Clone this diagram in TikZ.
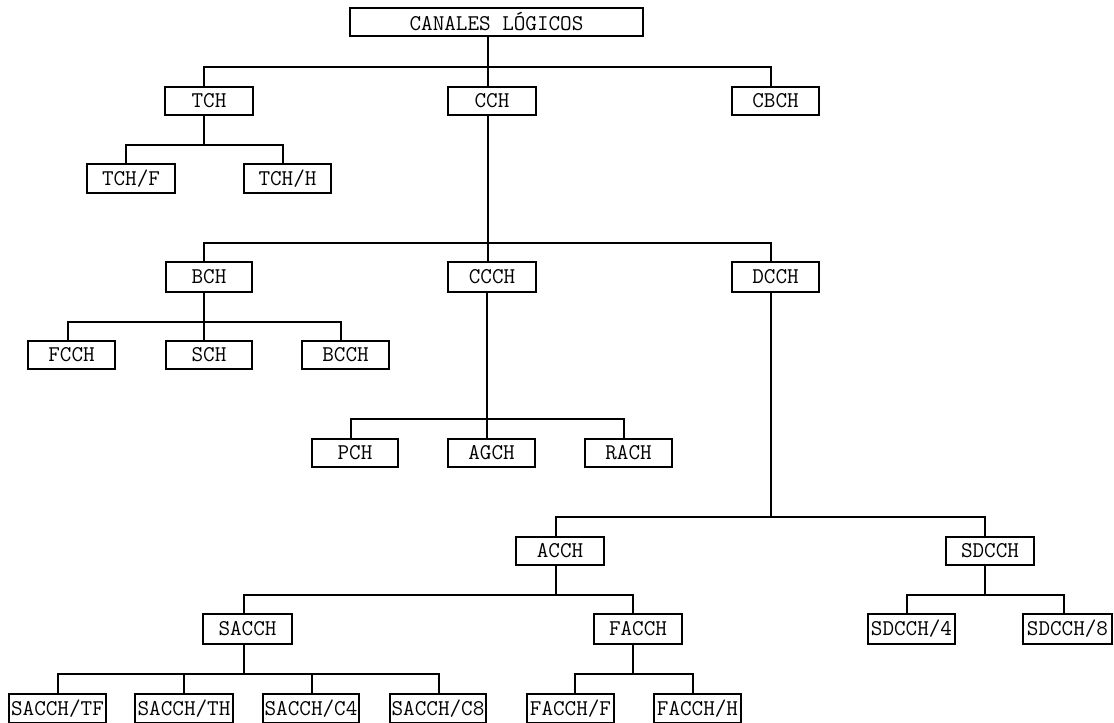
\documentclass[tikz,border=0pt]{standalone}
\usepackage{fontspec}
\begin{document}
\begin{tikzpicture}[x=1pt,y=-1pt,
  box/.style={draw, rectangle, line width=1.2pt, inner sep=0pt,
    minimum height=28pt, font=\ttfamily\fontsize{22.5}{22.5}\selectfont},
  link/.style={line width=1.2pt}]
\useasboundingbox (0,0) rectangle (1114,723);

% channel boxes
\node[box, minimum width=293pt] (root) at (496.5,22) {CANALES LÓGICOS};
\node[box, minimum width=88pt] (tch) at (209,101) {TCH};
\node[box, minimum width=88pt] (cch) at (492,101) {CCH};
\node[box, minimum width=87pt] (cbch) at (775.5,101) {CBCH};
\node[box, minimum width=88pt, minimum height=29pt] (tchf) at (131,178.5) {TCH/F};
\node[box, minimum width=87pt, minimum height=29pt] (tchh) at (287.5,178.5) {TCH/H};
\node[box, minimum width=86pt, minimum height=30pt] (bch) at (209,277) {BCH};
\node[box, minimum width=88pt, minimum height=30pt] (ccch) at (492,277) {CCCH};
\node[box, minimum width=87pt, minimum height=30pt] (dcch) at (775.5,277) {DCCH};
\node[box, minimum width=87pt] (fcch) at (71.5,355) {FCCH};
\node[box, minimum width=86pt] (sch) at (209,355) {SCH};
\node[box, minimum width=87pt] (bcch) at (345.5,355) {BCCH};
\node[box, minimum width=86pt] (pch) at (355,453) {PCH};
\node[box, minimum width=87pt] (agch) at (491.5,453) {AGCH};
\node[box, minimum width=87pt] (rach) at (628.5,453) {RACH};
\node[box, minimum width=88pt] (acch) at (560,551) {ACCH};
\node[box, minimum width=88pt] (sdcch) at (990,551) {SDCCH};
\node[box, minimum width=89pt, minimum height=30pt] (sacch) at (247.5,629) {SACCH};
\node[box, minimum width=88pt, minimum height=30pt] (facch) at (638,629) {FACCH};
\node[box, minimum width=87pt, minimum height=30pt] (sdcch4) at (911.5,629) {SDCCH/4};
\node[box, minimum width=89pt, minimum height=30pt] (sdcch8) at (1067.5,629) {SDCCH/8};
\node[box, minimum width=97pt, minimum height=29pt] (sacchtf) at (57.5,708.5) {SACCH/TF};
\node[box, minimum width=98pt, minimum height=29pt] (sacchth) at (184,708.5) {SACCH/TH};
\node[box, minimum width=96pt, minimum height=29pt] (sacchc4) at (311,708.5) {SACCH/C4};
\node[box, minimum width=96pt, minimum height=29pt] (sacchc8) at (438,708.5) {SACCH/C8};
\node[box, minimum width=87pt, minimum height=29pt] (facchf) at (570.5,708.5) {FACCH/F};
\node[box, minimum width=87pt, minimum height=29pt] (facchh) at (697.5,708.5) {FACCH/H};

% branch points of the tree
\coordinate (j0) at (488,67);
\coordinate (j1) at (204,145);
\coordinate (j2) at (488,243);
\coordinate (j3) at (204,322);
\coordinate (j4) at (487,419);
\coordinate (j5) at (771,517);
\coordinate (j6) at (556,595);
\coordinate (j7) at (244,674);
\coordinate (j8) at (633,674);
\coordinate (j9) at (985,595);

% CANALES LÓGICOS
\draw[link] (root.south -| j0) -- (j0);
\draw[link] (j0) -| ([xshift=-5pt]tch.north);
\draw[link] (j0) -| ([xshift=-4pt]cch.north);
\draw[link] (j0) -| ([xshift=-4.5pt]cbch.north);
% TCH
\draw[link] (tch.south -| j1) -- (j1);
\draw[link] (j1) -| ([xshift=-5pt]tchf.north);
\draw[link] (j1) -| ([xshift=-4.5pt]tchh.north);
% CCH
\draw[link] (cch.south -| j2) -- (j2);
\draw[link] (j2) -| ([xshift=-5pt]bch.north);
\draw[link] (j2) -| ([xshift=-4pt]ccch.north);
\draw[link] (j2) -| ([xshift=-4.5pt]dcch.north);
% BCH
\draw[link] (bch.south -| j3) -- (j3);
\draw[link] (j3) -| ([xshift=-3.5pt]fcch.north);
\draw[link] (j3) -| ([xshift=-5pt]sch.north);
\draw[link] (j3) -| ([xshift=-4.5pt]bcch.north);
% CCCH
\draw[link] (ccch.south -| j4) -- (j4);
\draw[link] (j4) -| ([xshift=-4pt]pch.north);
\draw[link] (j4) -| ([xshift=-4.5pt]agch.north);
\draw[link] (j4) -| ([xshift=-4.5pt]rach.north);
% DCCH
\draw[link] (dcch.south -| j5) -- (j5);
\draw[link] (j5) -| ([xshift=-4pt]acch.north);
\draw[link] (j5) -| ([xshift=-5pt]sdcch.north);
% ACCH
\draw[link] (acch.south -| j6) -- (j6);
\draw[link] (j6) -| ([xshift=-3.5pt]sacch.north);
\draw[link] (j6) -| ([xshift=-5pt]facch.north);
% SACCH
\draw[link] (sacch.south -| j7) -- (j7);
\draw[link] (j7) -| ([xshift=0.5pt]sacchtf.north);
\draw[link] (j7) -| (sacchth.north);
\draw[link] (j7) -| ([xshift=1pt]sacchc4.north);
\draw[link] (j7) -| ([xshift=1pt]sacchc8.north);
% FACCH
\draw[link] (facch.south -| j8) -- (j8);
\draw[link] (j8) -| ([xshift=4.5pt]facchf.north);
\draw[link] (j8) -| ([xshift=-4.5pt]facchh.north);
% SDCCH
\draw[link] (sdcch.south -| j9) -- (j9);
\draw[link] (j9) -| ([xshift=-4.5pt]sdcch4.north);
\draw[link] (j9) -| ([xshift=-3.5pt]sdcch8.north);
\end{tikzpicture}
\end{document}
